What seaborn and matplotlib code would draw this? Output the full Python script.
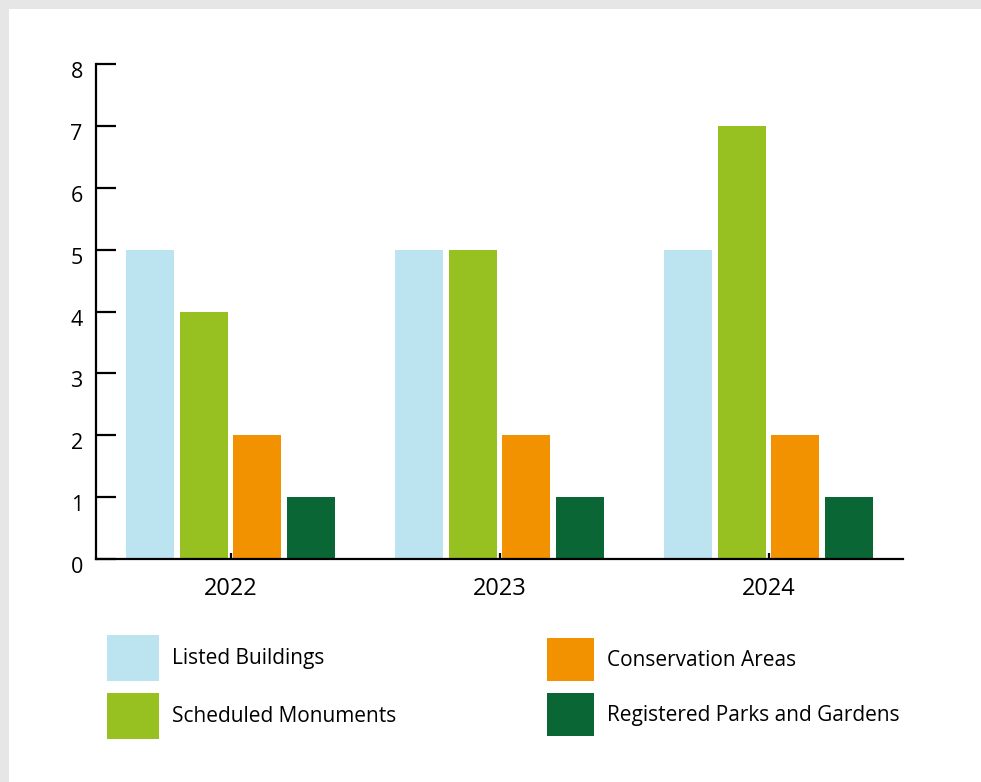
import matplotlib
matplotlib.use("Agg")
import matplotlib.pyplot as plt
import matplotlib.transforms as mtransforms
from matplotlib.patches import Rectangle, Patch
import seaborn as sns
import pandas as pd

# Heritage designations per year
years = ["2022", "2023", "2024"]
listed_buildings = [5, 5, 5]
scheduled_monuments = [4, 5, 7]
conservation_areas = [2, 2, 2]
registered_parks = [1, 1, 1]

series_names = ["Listed Buildings", "Scheduled Monuments",
                "Conservation Areas", "Registered Parks and Gardens"]
series_colors = ["#bce3f0", "#96c121", "#f39200", "#0a6735"]
y_ticks = [0, 1, 2, 3, 4, 5, 6, 7, 8]

rows = []
for name, vals in zip(series_names, [listed_buildings, scheduled_monuments,
                                     conservation_areas, registered_parks]):
    for yr, v in zip(years, vals):
        rows.append({"Year": yr, "Type": name, "Count": v})
df = pd.DataFrame(rows)

sns.set_theme(style="white")
plt.rcParams["font.family"] = ["Open Sans", "DejaVu Sans"]

W, H = 981, 782
fig = plt.figure(figsize=(W / 100, H / 100), dpi=100, facecolor="white")

# light grey frame along the top and left edges
fig.patches.append(Rectangle((0, 1 - 9 / H), 1, 9 / H, transform=fig.transFigure,
                             facecolor="#e6e6e6", edgecolor="none", zorder=0))
fig.patches.append(Rectangle((0, 0), 9 / W, 1, transform=fig.transFigure,
                             facecolor="#e6e6e6", edgecolor="none", zorder=0))

ax = fig.add_axes([96 / W, 1 - 559 / H, (903 - 96) / W, (559 - 64) / H])
ax.set_facecolor("white")

sns.barplot(data=df, x="Year", y="Count", hue="Type", hue_order=series_names,
            palette=series_colors, order=years, width=0.8, gap=0.11,
            saturation=1, legend=False, ax=ax, edgecolor="none")

ax.set_xlim(-0.5, 2.5)
ax.set_ylim(0, 8)
ax.set_yticks(y_ticks)
ax.set_xlabel("")
ax.set_ylabel("")
for s in ["top", "right"]:
    ax.spines[s].set_visible(False)
for s in ["left", "bottom"]:
    ax.spines[s].set_color("black")
    ax.spines[s].set_linewidth(1.6)
ax.tick_params(axis="y", direction="in", length=14.5, width=1.6, color="black",
               pad=9.5, labelsize=15.5, labelcolor="black", left=True)
ax.tick_params(axis="x", direction="in", length=4.5, width=1.6, color="black",
               pad=13, labelsize=17, labelcolor="black", bottom=True)

# y labels sit slightly below their ticks
shift = mtransforms.ScaledTranslation(0, -0.06, fig.dpi_scale_trans)
for lbl in ax.get_yticklabels():
    lbl.set_transform(lbl.get_transform() + shift)

handles = [Patch(facecolor=c, edgecolor="none") for c in series_colors]
common = dict(frameon=False, loc="upper left", borderpad=0, borderaxespad=0,
              handletextpad=0.625, labelspacing=0.58, fontsize=15,
              labelcolor="black")
fig.legend(handles[:2], series_names[:2], handlelength=2.5, handleheight=3.03,
           bbox_to_anchor=(107 / W, 1 - 635 / H), **common)
fig.legend(handles[2:], series_names[2:], handlelength=2.26, handleheight=2.8,
           bbox_to_anchor=(547 / W, 1 - 638 / H), **common)

fig.savefig("out.png", dpi=100, facecolor="white")
